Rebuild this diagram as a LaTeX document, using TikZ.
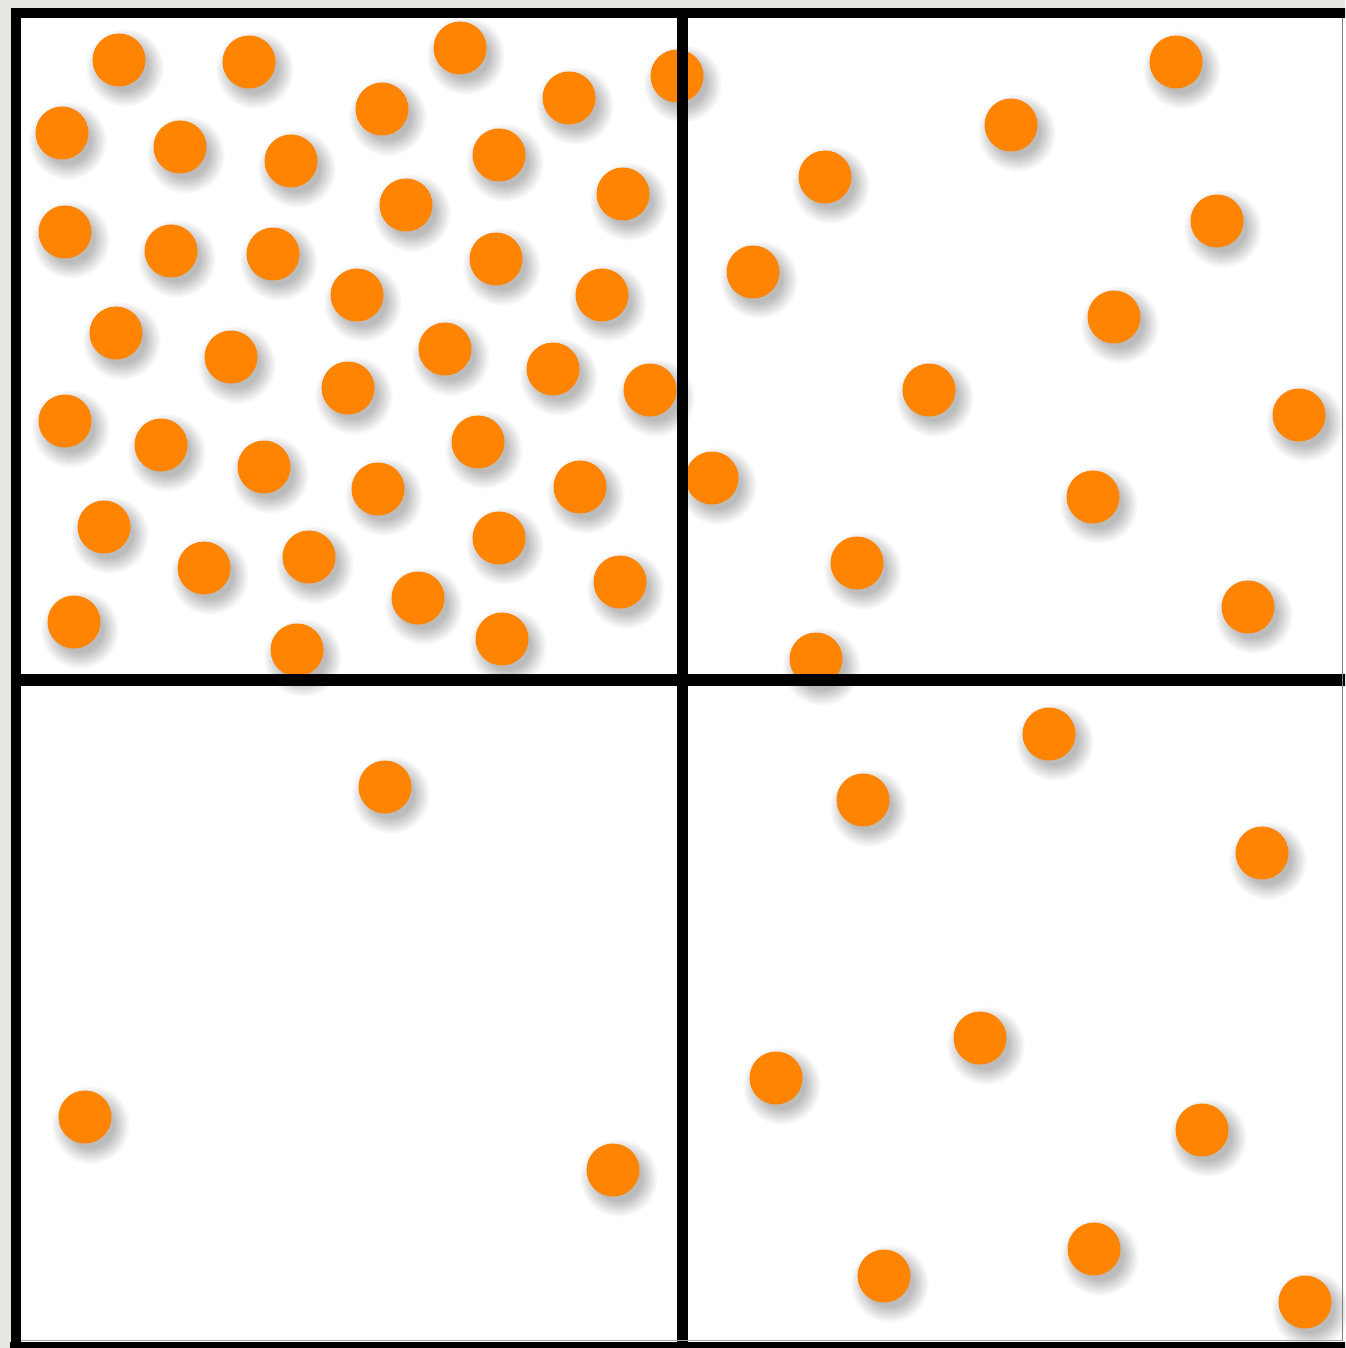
\documentclass[tikz,border=0pt]{standalone}
\definecolor{dotorange}{RGB}{255,132,2}
\definecolor{bggray}{RGB}{230,230,226}
\begin{document}
\begin{tikzpicture}[x=1pt,y=-1pt,
  dot/.style={fill=dotorange,draw=none},
  shadowlayer/.style={fill=black,fill opacity=0.016,draw=none},
  frame/.style={draw=black,line width=10.5pt}]
\useasboundingbox (0,0) rectangle (1345,1348);
\clip (0,0) rectangle (1345,1348);
\fill[bggray] (0,0) rectangle (1345,1348);
\fill[white] (16,13) rectangle (1360,1360);
\def\dotlist{119/60,249/62,460/48,382/109,569/98,677/76,62/133,180/147,291/161,499/155,406/205,623/194,65/232,171/251,273/254,496/259,357/295,602/295,116/333,231/357,445/349,348/388,553/369,650/390,65/421,161/445,264/467,478/442,378/489,580/487,104/527,204/568,309/557,499/538,418/598,620/582,74/622,297/650,502/639,1176/62,1011/125,825/177,1217/221,753/272,1114/317,929/390,1299/415,712/478,1093/497,857/563,1248/607,816/659,385/787,85/1117,613/1170,1049/734,863/800,1262/853,980/1038,776/1078,1202/1130,1094/1249,884/1276,1305/1302}
% shadows
\foreach \x/\y in \dotlist {
  \foreach \r in {39,38,37,36,35,34,33,32,31,30,29,28,27,26,25,24,23} {
    \path[shadowlayer] (\x+6,\y+8) circle[radius=\r pt];
  }
}
% dots
\foreach \x/\y in \dotlist {
  \path[dot] (\x,\y) circle[radius=26.5pt];
}
% frame and dividers
\draw[frame] (1360,13) -- (16,13) -- (16,1360);
\draw[frame,line width=9pt] (10,1346) -- (1360,1346);
\draw[frame,line width=11pt] (682.5,8) -- (682.5,1350);
\draw[frame,line width=11.5pt] (16,680) -- (1360,680);
\draw[gray,line width=1.5pt] (1342.5,18) -- (1342.5,1341);
\draw[gray!70,line width=1pt] (21,1340.5) -- (1342,1340.5);
\end{tikzpicture}
\end{document}
